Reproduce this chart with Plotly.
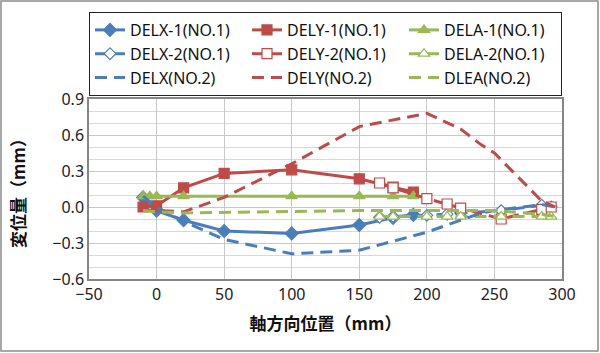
import plotly.graph_objects as go

BLUE = "#4A7EBB"
RED = "#BE4B48"
GREEN = "#98B954"

# NO.1 gauge -1
x1 = [-10, 0, 20, 50, 100, 150, 175, 190]
delx1 = [0.08, -0.03, -0.11, -0.20, -0.22, -0.15, -0.09, -0.065]
x1y = [-10, 0, 20, 50, 100, 150, 175, 190]
dely1 = [0.0, 0.01, 0.16, 0.28, 0.31, 0.235, 0.165, 0.125]
x1a = [-10, -5, 0, 20, 100, 150, 175, 190]
dela1 = [0.09, 0.09, 0.09, 0.09, 0.09, 0.09, 0.09, 0.09]

# NO.1 gauge -2
x2 = [165, 175, 200, 215, 225, 255, 285, 292]
delx2 = [-0.085, -0.08, -0.07, -0.06, -0.05, -0.03, 0.015, 0.0]
dely2 = [0.20, 0.16, 0.07, 0.025, -0.01, -0.10, -0.02, 0.0]
dela2 = [-0.08, -0.08, -0.08, -0.08, -0.08, -0.08, -0.08, -0.08]

# NO.2
xn2 = [-10, 0, 20, 50, 100, 150, 200, 225, 240, 250, 285, 295]
delx_n2 = [0.09, 0.0, -0.12, -0.27, -0.39, -0.36, -0.21, -0.11, -0.05, -0.03, 0.02, 0.0]
dely_n2 = [-0.02, -0.03, -0.04, 0.08, 0.36, 0.67, 0.78, 0.65, 0.52, 0.45, 0.05, 0.0]
dlea_n2 = [-0.03, -0.04, -0.05, -0.045, -0.04, -0.03, -0.03, -0.03, -0.03, -0.03, -0.06, -0.08]

fig = go.Figure()

DASH = "12px,7px"

def add(name, x, y, color, dash, symbol, filled, size=9):
    kw = {}
    if symbol:
        kw["marker"] = dict(symbol=symbol, size=size,
                            color=color if filled else "white",
                            line=dict(color=color, width=1.2))
    fig.add_trace(go.Scatter(
        x=x, y=y, name=name,
        mode="lines+markers" if symbol else "lines",
        line=dict(color=color, width=3, dash=dash),
        **kw,
    ))

add("DELX-1(NO.1)", x1, delx1, BLUE, "solid", "diamond", True, 10)
add("DELY-1(NO.1)", x1y, dely1, RED, "solid", "square", True, 10)
add("DELA-1(NO.1)", x1a, dela1, GREEN, "solid", "triangle-up", True, 10)
add("DELX-2(NO.1)", x2, delx2, BLUE, DASH, "diamond", False, 9)
add("DELY-2(NO.1)", x2, dely2, RED, DASH, "square", False, 10)
add("DELA-2(NO.1)", x2, dela2, GREEN, DASH, "triangle-up", False, 10)
add("DELX(NO.2)", xn2, delx_n2, BLUE, DASH, None, True)
add("DELY(NO.2)", xn2, dely_n2, RED, DASH, None, True)
add("DLEA(NO.2)", xn2, dlea_n2, GREEN, DASH, None, True)

L, R, T, B = 89, 38, 99, 74
W, H = 600, 353
pw, ph = W - L - R, H - T - B

def xp(px):
    return (px - L) / pw

def yp(py):
    return (H - B - py) / ph

fig.update_layout(
    width=W, height=H,
    margin=dict(l=L, r=R, t=T, b=B),
    paper_bgcolor="white", plot_bgcolor="white",
    font=dict(family="Noto Sans, Noto Sans CJK JP", size=16, color="#222"),
    showlegend=True,
    legend=dict(
        orientation="h", x=xp(89), y=yp(12), xanchor="left", yanchor="top",
        entrywidth=112, bordercolor="#222", borderwidth=1,
        font=dict(size=16, color="#111"), tracegroupgap=0,
        itemwidth=30,
    ),
    xaxis=dict(
        range=[-50, 300], dtick=50, tick0=-50,
        showgrid=True, gridcolor="#C8C8C8", gridwidth=1,
        zeroline=False, showline=True, linecolor="#868686", linewidth=1.5,
        mirror=True, ticks="",
        tickfont=dict(size=16, color="#222"),
        title=dict(text="<b>軸方向位置（mm）</b>", standoff=14,
                   font=dict(family="Noto Sans CJK JP", size=17, color="#111")),
    ),
    yaxis=dict(
        range=[-0.6, 0.9], dtick=0.3, tick0=-0.6, tickformat=".1f",
        showgrid=True, gridcolor="#C8C8C8", gridwidth=1,
        minor=dict(dtick=0.1, showgrid=True, gridcolor="#D8D8D8", gridwidth=1),
        zeroline=False, showline=True, linecolor="#868686", linewidth=1.5,
        mirror=True, ticks="",
        tickfont=dict(size=16, color="#222"),
        title=dict(text="<b>変位量（mm）</b>", standoff=22,
                   font=dict(family="Noto Sans CJK JP", size=17, color="#111")),
    ),
    shapes=[dict(type="rect", xref="paper", yref="paper",
                 x0=xp(1), x1=xp(598), y0=yp(351), y1=yp(1),
                 line=dict(color="#8C8C8C", width=1.5), layer="below")],
)

fig.write_html("out.html")
